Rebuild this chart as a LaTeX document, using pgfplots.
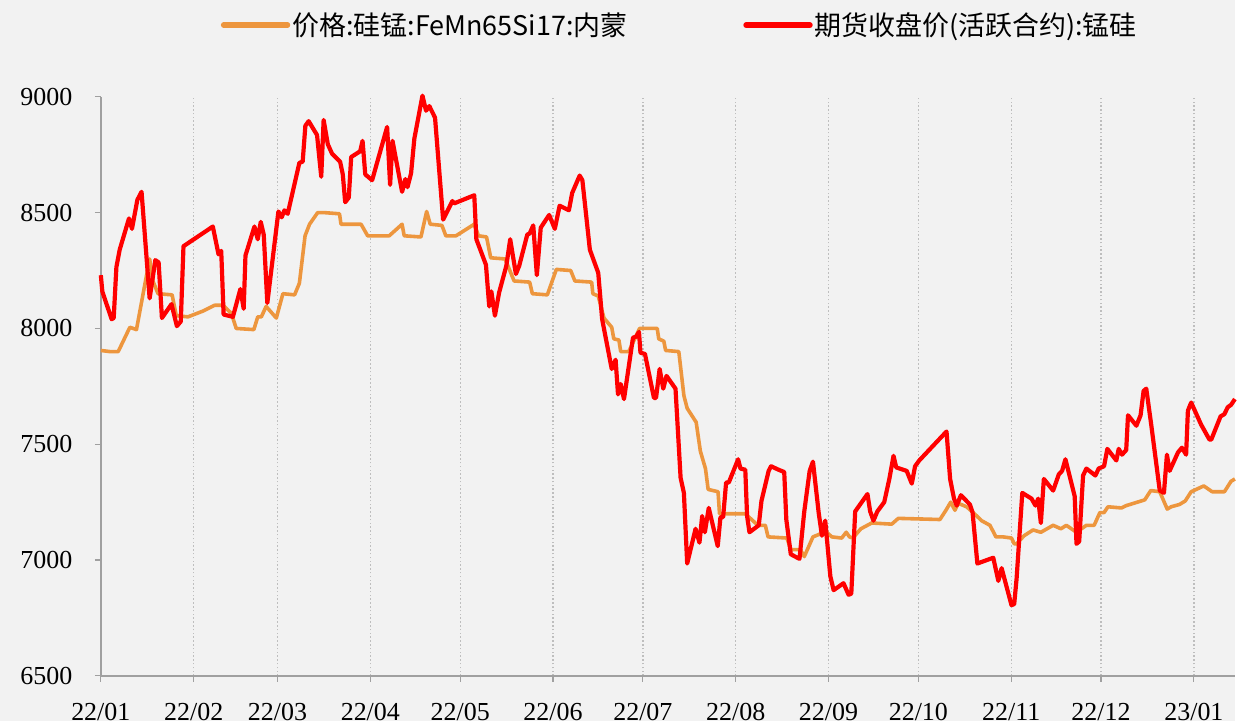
\documentclass[border=0pt]{standalone}
\usepackage{pgfplots}
\pgfplotsset{compat=1.18}
\usepackage{pgfplotstable}
\usepackage{fontspec}
\setmainfont{Liberation Serif}
\newfontfamily\cjk{Noto Sans CJK SC}
\definecolor{bgc}{RGB}{242,242,242}
\definecolor{orangec}{RGB}{237,150,62}
\definecolor{redc}{RGB}{255,0,0}
\definecolor{axc}{RGB}{160,160,160}
\definecolor{gridc}{RGB}{190,190,190}

\pgfplotstableread{
day value
0 7905
3.0 7900
5.8 7900
9.7 8005
11.9 7995
14.7 8190
16.3 8300
17.4 8205
19.1 8150
23.8 8145
25.2 8055
29.1 8050
34.1 8075
38.0 8100
40.8 8100
43.6 8065
45.2 8000
51.1 7995
52.4 8050
53.6 8050
55.2 8095
58.6 8045
60.8 8150
64.7 8145
66.3 8195
68.2 8400
69.7 8450
72.4 8500
74.7 8500
79.7 8495
80.2 8450
86.9 8450
88.0 8425
89.1 8400
96.3 8400
100.6 8450
101.3 8400
106.9 8395
108.8 8505
110.0 8450
113.9 8445
115.2 8400
118.6 8400
124.7 8450
126.1 8400
128.8 8395
130.2 8305
135.0 8300
138.0 8205
143.2 8200
144.1 8150
149.1 8145
152.1 8255
156.9 8250
158.3 8205
163.9 8200
164.3 8150
166.1 8140
168.0 8045
170.6 8005
171.3 7955
173.0 7950
173.6 7900
176.3 7900
179.9 8000
185.8 8000
186.3 7955
188.0 7945
188.6 7905
193.0 7900
194.7 7710
195.8 7655
198.8 7595
200.2 7470
201.9 7395
202.8 7305
206.1 7295
206.6 7200
215.2 7200
219.4 7150
221.9 7150
222.8 7100
229.1 7095
230.4 7045
233.6 7045
234.9 7015
237.8 7100
239.7 7110
241.9 7125
244.1 7100
247.4 7095
248.9 7120
250.0 7100
251.1 7095
253.8 7135
257.4 7160
264.1 7155
266.3 7180
280.2 7175
282.2 7215
283.8 7250
285.2 7215
286.3 7245
289.1 7230
291.3 7205
294.1 7170
296.9 7150
298.9 7100
301.3 7100
304.1 7095
305.0 7070
305.8 7070
308.3 7105
311.3 7130
313.9 7120
318.0 7150
320.6 7135
322.4 7150
325.8 7120
329.1 7150
331.7 7150
333.6 7205
335.0 7205
336.3 7230
340.8 7225
342.4 7235
347.4 7255
348.6 7260
350.6 7300
353.6 7295
356.1 7220
357.4 7230
360.2 7240
362.1 7255
364.1 7295
368.3 7320
371.1 7295
375.2 7295
377.4 7340
378.7 7350
}\spot

\pgfplotstableread{
day value
0 8230
0.5 8160
3.6 8040
4.3 8045
5.2 8265
6.3 8340
9.4 8475
10.4 8430
12.2 8555
13.6 8590
16.3 8130
18.2 8295
19.3 8285
20.4 8045
23.6 8105
25.4 8010
26.7 8030
27.6 8355
37.4 8440
39.3 8320
40.2 8335
41.0 8060
44.1 8050
46.6 8170
47.7 8085
48.3 8315
51.3 8440
52.4 8385
53.4 8460
54.4 8405
55.6 8110
59.3 8505
60.4 8480
61.3 8510
62.4 8495
66.3 8715
67.4 8720
68.3 8875
69.4 8895
72.2 8835
73.6 8655
74.4 8900
75.8 8795
77.2 8755
79.9 8720
80.8 8665
81.6 8545
82.8 8565
83.6 8740
86.6 8765
87.4 8810
88.3 8665
90.6 8640
95.6 8870
96.6 8620
97.4 8810
100.6 8590
101.7 8645
102.4 8610
103.6 8670
104.7 8820
107.4 9005
108.6 8940
109.7 8960
111.6 8910
114.3 8470
117.4 8550
118.0 8540
124.7 8575
125.4 8385
128.6 8275
129.7 8095
130.4 8160
131.6 8055
133.0 8155
135.4 8270
136.7 8385
138.6 8235
139.7 8270
142.4 8405
143.2 8410
144.4 8445
145.6 8230
146.9 8435
149.7 8490
151.6 8430
153.2 8530
156.3 8510
157.4 8585
159.9 8660
160.8 8640
163.3 8340
164.7 8290
166.1 8240
167.4 8040
170.6 7825
171.9 7865
172.7 7715
173.6 7760
174.7 7695
177.7 7960
178.8 7965
179.7 7985
180.2 7895
181.7 7890
184.7 7700
185.4 7700
186.6 7825
187.8 7740
188.9 7795
191.9 7740
193.6 7355
194.7 7290
195.8 6985
198.6 7135
199.9 7075
200.8 7190
201.7 7120
203.0 7225
206.0 7060
206.9 7185
207.8 7185
208.8 7335
209.7 7335
212.8 7435
213.6 7395
215.2 7390
215.8 7190
216.6 7120
219.7 7150
220.6 7255
223.0 7385
223.8 7405
226.3 7390
228.2 7380
228.9 7175
230.4 7025
233.3 7005
234.9 7210
236.7 7385
237.8 7425
239.7 7205
240.8 7105
241.9 7170
243.6 6930
244.7 6870
248.0 6900
249.7 6850
250.6 6855
251.9 7210
256.0 7285
256.9 7210
258.0 7170
259.3 7210
261.6 7250
263.3 7350
264.7 7450
265.6 7400
269.1 7385
270.8 7330
271.9 7405
273.3 7430
282.4 7555
283.6 7350
284.9 7265
285.8 7235
287.2 7280
290.2 7240
291.1 7205
292.7 6985
298.0 7010
299.7 6910
300.8 6965
304.1 6805
305.0 6810
305.8 6920
307.7 7290
310.8 7265
312.1 7235
313.0 7265
313.9 7160
314.9 7350
318.0 7300
319.9 7370
321.0 7385
322.1 7435
325.2 7275
325.8 7070
326.7 7080
328.0 7365
329.1 7395
332.1 7365
333.2 7395
335.0 7405
336.1 7480
339.1 7430
339.9 7480
341.0 7455
342.4 7475
343.0 7625
345.8 7580
347.2 7625
348.2 7730
349.1 7740
350.8 7580
353.6 7300
355.0 7290
356.0 7455
356.9 7385
359.7 7465
361.0 7485
362.4 7455
363.0 7645
364.1 7680
367.4 7585
370.2 7520
370.8 7520
373.9 7620
375.2 7630
376.3 7660
377.4 7670
378.7 7695
}\futures

\begin{document}
\begin{tikzpicture}
\fill[bgc] (0bp,0bp) rectangle (1237bp,722bp);
\begin{axis}[
  at={(101bp,45bp)}, anchor=south west,
  scale only axis, width=1136bp, height=580bp,
  xmin=0, xmax=378.7, ymin=6500, ymax=9000,
  clip=false,
  axis lines*=left,
  axis line style={axc, line width=1.6bp},
  xtick={0,31,59,90,120,151,181,212,243,273,304,334,365},
  xticklabels={22/01,22/02,22/03,22/04,22/05,22/06,22/07,22/08,22/09,22/10,22/11,22/12,23/01},
  ytick={6500,7000,7500,8000,8500,9000},
  tick align=outside,
  major tick length=6bp,
  tick style={axc, line width=1.2bp},
  xmajorgrids,
  major grid style={gridc, line width=1.3bp, dash pattern=on 1.5bp off 2.3bp},
  /pgf/number format/1000 sep={},
  /pgf/number format/assume math mode=true,
  ticklabel style={font=\fontsize{26bp}{30bp}\selectfont},
  yticklabel style={xshift=-19bp},
  xticklabel style={yshift=-18bp},
  legend columns=2,
  legend style={at={(0.5106,1.124)}, anchor=center, draw=none, fill=none,
    font=\cjk\fontsize{27bp}{31bp}\selectfont,
    nodes={inner sep=2bp},
    /tikz/every even column/.append style={column sep=114bp}},
  legend cell align=left,
  legend image code/.code={\draw[#1, line width=5.5bp, line cap=round] (0bp,0bp) -- (64bp,0bp);},
]
\addplot[orangec, line width=3.6bp, line join=round] table[x=day, y=value] {\spot};
\addlegendentry{价格:硅锰:FeMn65Si17:内蒙}
\addplot[redc, line width=4.2bp, line join=round] table[x=day, y=value] {\futures};
\addlegendentry{期货收盘价(活跃合约):锰硅}
\end{axis}
\end{tikzpicture}
\end{document}
